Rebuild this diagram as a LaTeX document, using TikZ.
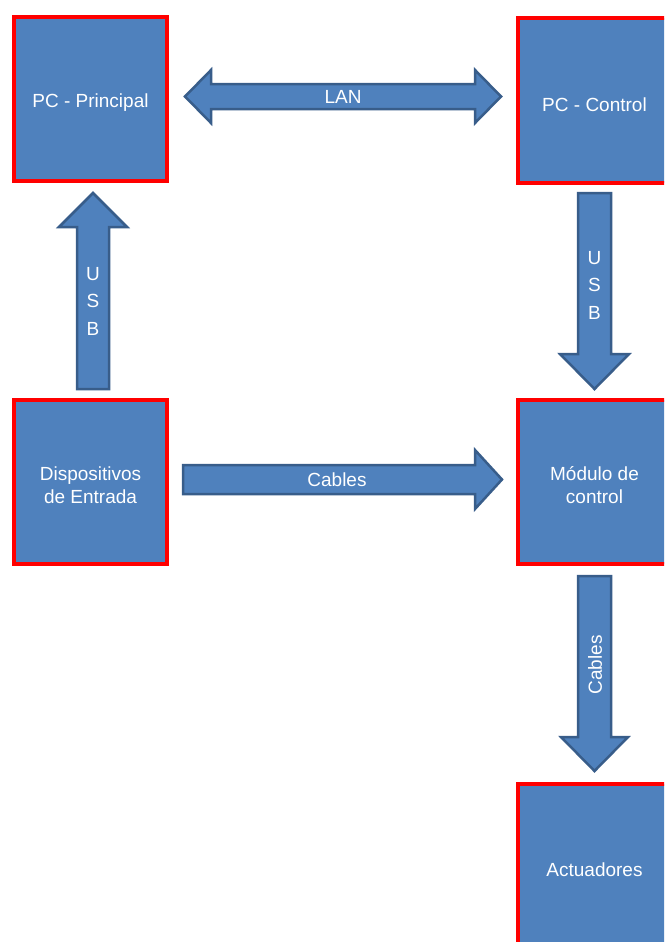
\documentclass[tikz,border=0pt]{standalone}
\usepackage{fontspec}
\setmainfont{Liberation Sans}
\definecolor{boxblue}{HTML}{4F81BD}
\definecolor{edgeblue}{HTML}{385D8A}
\definecolor{boxred}{HTML}{FF0000}
\begin{document}
\begin{tikzpicture}[x=1pt,y=-1pt,
  box/.style={draw=boxred, line width=4pt, fill=boxblue, minimum width=153pt,
    minimum height=164pt, inner sep=0pt},
  boxtext/.style={text=white, font=\fontsize{19}{23}\selectfont, align=center,
    inner sep=0pt, yshift=-4pt},
  blockarrow/.style={draw=edgeblue, line width=2.5pt, fill=boxblue, line join=miter},
  lbl/.style={text=white, font=\fontsize{19}{23}\selectfont, inner sep=0pt},
  vlbl/.style={text=white, font=\fontsize{19}{27.5}\selectfont, inner sep=0pt, align=center}]
\clip (0,0) rectangle (664,942);
\fill[white] (0,0) rectangle (664,942);
% boxes
\node[box, label={[boxtext]center:{PC - Principal}}] (pcp)  at (90.5,99) {};
\node[box, label={[boxtext]center:{PC - Control}}] (pcc)  at (594.5,100.5) {};
\node[box, label={[boxtext]center:{Dispositivos\\de Entrada}}] (disp) at (90.5,481.5) {};
\node[box, label={[boxtext]center:{Módulo de\\control}}] (mod)  at (594.5,481.5) {};
\node[box, label={[boxtext]center:{Actuadores}}] (act)  at (594.5,866) {};
% LAN double arrow
\draw[blockarrow] (185,96.5) -- (211,70) -- (211,84) -- (475,84) -- (475,70) -- (501,96.5)
  -- (475,123) -- (475,109) -- (211,109) -- (211,123) -- cycle;
% USB up (left)
\draw[blockarrow] (93,193) -- (127,227) -- (109,227) -- (109,389) -- (77,389) -- (77,227) -- (59,227) -- cycle;
% USB down (right)
\draw[blockarrow] (578,193) -- (611,193) -- (611,354) -- (629,354) -- (594.5,389) -- (560,354) -- (578,354) -- cycle;
% Cables horizontal
\draw[blockarrow] (183,465) -- (475,465) -- (475,450) -- (502,479.5) -- (475,509) -- (475,494) -- (183,494) -- cycle;
% Cables down
\draw[blockarrow] (578,576) -- (611,576) -- (611,737) -- (628,737) -- (594.5,771) -- (561,737) -- (578,737) -- cycle;
% labels
\node[lbl] (lan) at (343,97) {LAN};
\node[lbl] (cab1) at (337,480) {Cables};
\node[lbl, rotate=90] (cab2) at (595,665) {Cables};
\node[vlbl] (usb1) at (93,301) {U\\S\\B};
\node[vlbl] (usb2) at (594.5,285) {U\\S\\B};
\end{tikzpicture}
\end{document}
